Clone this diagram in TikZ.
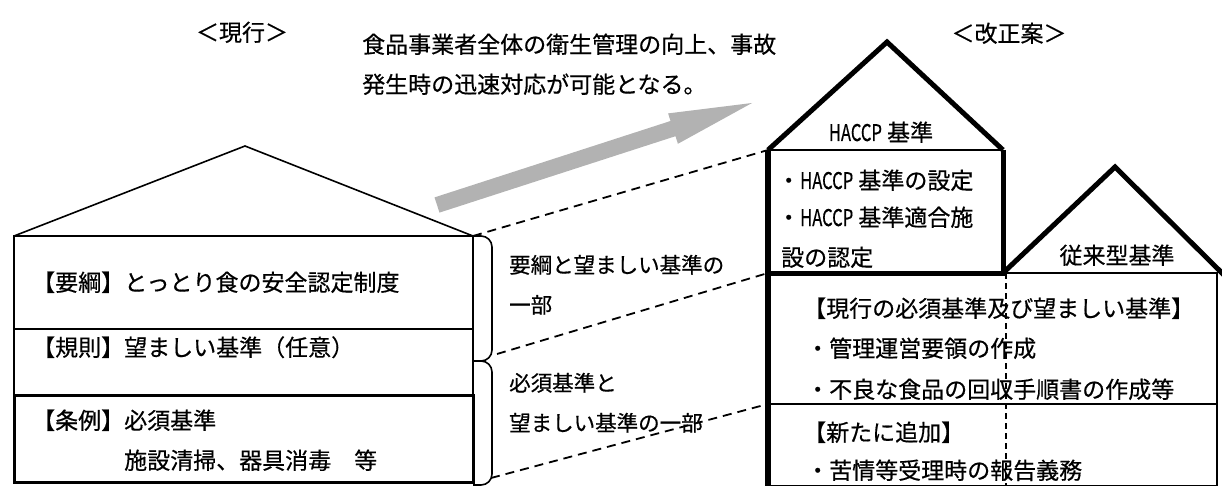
\documentclass[tikz,border=0pt]{standalone}
\usepackage{graphicx}
\usepackage{fontspec}
\setmainfont{Noto Sans CJK JP}[FakeBold=0.5]
\newcommand\haccpword{\scalebox{0.72}[1]{HACCP}}
\begin{document}
\begin{tikzpicture}[x=1pt,y=-1pt,
  txt/.style={anchor=base west,inner sep=0pt,font=\fontsize{23}{28}\selectfont},
  ctxt/.style={txt,anchor=base},
  side/.style={txt,font=\fontsize{21.5}{26}\selectfont},
  frame/.style={inner sep=0pt,outer sep=0pt,anchor=north west},
  thinln/.style={line width=1.6pt},
  thickln/.style={line width=5pt},
  boldbox/.style={line width=3pt},
  dashln/.style={line width=1.8pt,dash pattern=on 9pt off 6pt},
  vdash/.style={line width=1.8pt,dash pattern=on 6pt off 4pt}]
\useasboundingbox (0,0) rectangle (1222,486);

% ---------- left house (current) ----------
\node[frame,draw,thinln,minimum width=459pt,minimum height=93pt] (rowA) at (14,236) {};
\node[frame,draw,thinln,minimum width=459pt,minimum height=66pt] (rowB) at (14,329) {};
\node[frame,draw,boldbox,minimum width=459pt,minimum height=87pt] (rowC) at (14,395) {};
\coordinate (Lapex) at (245,146);
\draw[thinln] (rowA.north west) -- (Lapex) -- (rowA.north east);

% brackets
\coordinate (brk) at (473,361);
\draw[thinln,rounded corners=11pt] (rowA.north east) -- (492,236) -- (492,361) -- (brk);
\draw[thinln,rounded corners=11pt] (brk) -- (492,361) -- (492,485) -- (473,485);

% ---------- gray arrow ----------
\fill[gray!60] (434.5,197.4) -- (670.5,121) -- (668.1,113.4) -- (752,103)
  -- (677.9,143.8) -- (675.5,136.2) -- (439.5,212.6) -- cycle;

% ---------- right house (proposal) ----------
\node[frame,minimum width=235pt,minimum height=123pt] (haccp) at (768,150) {};
\node[frame,minimum width=449pt,minimum height=213pt] (newbox) at (768,273) {};
\coordinate (Happex) at (887,42);
\coordinate (Japex) at (1115,167);
\coordinate (Jend) at (1224,275);
\coordinate (div) at (768,404);
\coordinate (divR) at (1217,404);
\coordinate (vtop) at (1006,273);
\coordinate (vbot) at (1006,486);

\draw[thinln] (haccp.north west) -- (haccp.north east);
\draw[thickln] (haccp.north west) -- (Happex) -- (haccp.north east);
\draw[thickln] (haccp.north east) -- (haccp.south east) -- (haccp.south west);
\draw[thinln] (haccp.south east) -- (newbox.north east) -- (newbox.south east) -- (newbox.south west);
\draw[line width=2pt] (div) -- (divR);
\draw[line width=6pt] (haccp.north west) -- (newbox.south west);
\draw[thickln] (haccp.south east) -- (Japex) -- (Jend);

% ---------- dashed connectors ----------
\coordinate (t1) at (497,354);
\coordinate (t2) at (491,478);
\draw[dashln] (rowA.north east) -- (haccp.north west);
\draw[dashln] (t1) -- (newbox.north west);
\draw[dashln] (t2) -- (div);

% ---------- texts ----------
\node[ctxt] (tGen) at (242,41) {＜現行＞};
\node[ctxt] (tKai) at (1009,42) {＜改正案＞};
\node[txt] (tNote1) at (362,53) {食品事業者全体の衛生管理の向上、事故};
\node[txt] (tNote2) at (362,93) {発生時の迅速対応が可能となる。};

\node[txt] (tYoko) at (32,291) {【要綱】とっとり食の安全認定制度};
\node[txt] (tKis) at (32,356) {【規則】望ましい基準（任意）};
\node[txt] (tJo1) at (32,429) {【条例】必須基準};
\node[txt] (tJo2) at (124,469) {施設清掃、器具消毒　等};

\node[side] (s1) at (509,273) {要綱と望ましい基準の};
\node[side] (s2) at (509,313) {一部};
\node[side] (s3) at (509,391) {必須基準と};
\node[side] (s4) at (509,431) {望ましい基準の一部};

\node[ctxt] (hTitle) at (881,141) {\haccpword\ 基準};
\node[txt] (h1) at (777,189) {・\haccpword\ 基準の設定};
\node[txt] (h2) at (777,226) {・\haccpword\ 基準適合施};
\node[txt] (h3) at (781,266) {設の認定};
\node[ctxt] (jTitle) at (1117,264) {従来型基準};

\node[txt] (n1) at (803,317) {【現行の必須基準及び望ましい基準】};
\node[txt] (n2) at (806,357) {・管理運営要領の作成};
\node[txt] (n3) at (806,398) {・不良な食品の回収手順書の作成等};
\node[txt] (n4) at (803,441) {【新たに追加】};
\node[txt] (n5) at (806,479) {・苦情等受理時の報告義務};

\draw[vdash] (vtop) -- (vbot);
\end{tikzpicture}
\end{document}
